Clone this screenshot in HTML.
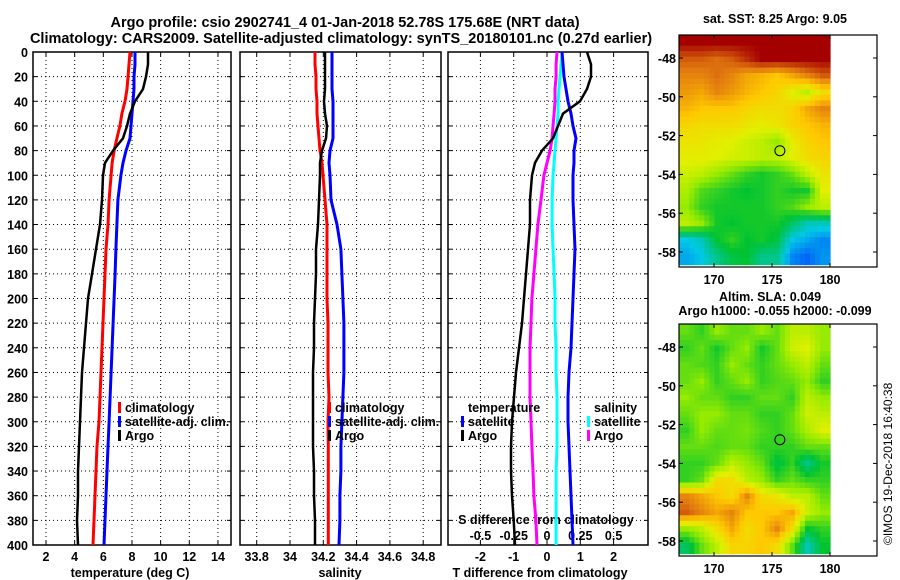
<!DOCTYPE html>
<html><head><meta charset="utf-8"><style>
html,body{margin:0;padding:0;background:#fff;}
svg{display:block;font-family:"Liberation Sans",Arial,sans-serif;font-weight:bold;}
</style></head><body>
<svg id="fig" width="900" height="580" viewBox="0 0 900 580" xmlns="http://www.w3.org/2000/svg">
<text x="345" y="27" text-anchor="middle" font-size="14.5">Argo profile: csio 2902741_4 01-Jan-2018 52.78S 175.68E (NRT data)</text>
<text x="341" y="43" text-anchor="middle" font-size="14.5">Climatology: CARS2009. Satellite-adjusted climatology: synTS_20180101.nc (0.27d earlier)</text>
<text x="775" y="23" text-anchor="middle" font-size="12.5">sat. SST: 8.25 Argo: 9.05</text>
<text x="770" y="301" text-anchor="middle" font-size="12.5">Altim. SLA: 0.049</text>
<text x="775" y="315" text-anchor="middle" font-size="12.5">Argo h1000: -0.055 h2000: -0.099</text>
<text transform="translate(892,545) rotate(-90)" font-size="12" font-weight="normal">©IMOS 19-Dec-2018 16:40:38</text>
<g id="plots"></g>
</svg>
<script>
const depths = [0,10,20,30,40,50,60,70,80,90,100,120,140,160,180,200,220,240,260,280,300,320,340,360,380,400];
const tempArgo = [9.12,9.12,8.98,8.77,8.21,7.86,7.65,7.37,6.68,6.12,5.98,5.91,5.77,5.49,5.21,4.93,4.79,4.65,4.51,4.44,4.37,4.30,4.23,4.23,4.16,4.23];
const tempClim = [7.86,7.79,7.72,7.65,7.51,7.30,7.16,6.95,6.75,6.61,6.54,6.40,6.33,6.19,6.12,6.05,5.98,5.91,5.84,5.77,5.70,5.56,5.49,5.42,5.35,5.28];
const tempSat = [8.21,8.21,8.14,8.14,8.07,8.00,7.93,7.86,7.58,7.37,7.23,7.02,6.95,6.88,6.82,6.75,6.68,6.61,6.54,6.47,6.40,6.33,6.26,6.19,6.12,6.05];
const salArgo = [34.21,34.21,34.21,34.21,34.204,34.21,34.222,34.216,34.192,34.18,34.18,34.174,34.168,34.156,34.156,34.15,34.144,34.144,34.138,34.138,34.138,34.138,34.144,34.144,34.15,34.15];
const salClim = [34.15,34.15,34.156,34.156,34.162,34.162,34.168,34.174,34.18,34.192,34.198,34.21,34.222,34.222,34.222,34.222,34.228,34.228,34.228,34.234,34.228,34.23,34.23,34.23,34.23,34.23];
const salSat = [34.252,34.252,34.252,34.252,34.258,34.258,34.258,34.258,34.24,34.234,34.24,34.246,34.282,34.306,34.312,34.318,34.324,34.324,34.324,34.318,34.312,34.306,34.306,34.300,34.300,34.294];
const dTArgo = [1.2,1.32,1.32,1.2,0.99,0.48,0.33,0.18,-0.15,-0.36,-0.45,-0.51,-0.51,-0.57,-0.63,-0.69,-0.75,-0.84,-0.93,-0.99,-1.05,-1.08,-1.08,-1.05,-1.0,-0.96];
const dTSat = [0.45,0.48,0.51,0.57,0.63,0.72,0.78,0.87,0.81,0.81,0.78,0.78,0.81,0.84,0.81,0.78,0.75,0.72,0.66,0.63,0.63,0.66,0.69,0.72,0.75,0.78];
const dSArgo = [0.075,0.068,0.068,0.060,0.060,0.053,0.045,0.038,0.023,0,-0.023,-0.045,-0.068,-0.083,-0.098,-0.113,-0.120,-0.128,-0.128,-0.128,-0.120,-0.113,-0.105,-0.098,-0.083,-0.075];
const dSSat = [0.113,0.105,0.098,0.090,0.083,0.083,0.075,0.068,0.060,0.053,0.045,0.038,0.038,0.045,0.053,0.060,0.060,0.068,0.068,0.075,0.075,0.075,0.068,0.068,0.068,0.068];
const depthTicks = [0,20,40,60,80,100,120,140,160,180,200,220,240,260,280,300,320,340,360,380,400];
const tempTicks = [2,4,6,8,10,12,14];
const salTicks = [33.8,34,34.2,34.4,34.6,34.8];
const salTickLabels = ["33.8","34","34.2","34.4","34.6","34.8"];
const dTTicks = [-2,-1,0,1,2];
const dSTicks = [-0.5,-0.25,0,0.25,0.5];
const lonTicks = [170,175,180];
const latTicks = [-48,-50,-52,-54,-56,-58];
const argoLon = 175.68;
const argoLat = -52.78;
const sstGrid = [
[1,1,1,1,1,1,1,1,1,1],
[.9,.9,.88,.9,.95,1,1,1,1,1],
[.85,.85,.88,.85,.8,.78,.75,.8,.85,.9],
[.82,.8,.85,.82,.78,.75,.72,.65,.6,.7],
[.78,.75,.75,.75,.72,.7,.7,.72,.8,.85],
[.72,.7,.7,.7,.68,.66,.68,.72,.75,.78],
[.68,.68,.66,.65,.62,.6,.55,.66,.72,.75],
[.66,.66,.65,.63,.62,.6,.6,.65,.7,.72],
[.62,.6,.55,.5,.45,.42,.45,.5,.6,.68],
[.58,.48,.45,.42,.4,.42,.45,.42,.42,.65],
[.55,.45,.42,.42,.42,.42,.45,.48,.55,.6],
[.6,.55,.42,.4,.42,.42,.42,.35,.25,.25],
[.2,.25,.4,.45,.4,.42,.38,.2,.15,.1],
[.15,.2,.3,.38,.4,.3,.3,.1,.05,.12]];
const slaGrid = [
[.5,.45,.55,.5,.5,.55,.5,.6,.6,.55],
[.45,.5,.42,.5,.55,.42,.5,.62,.65,.55],
[.5,.48,.45,.55,.5,.45,.5,.55,.6,.5],
[.5,.55,.45,.5,.55,.45,.48,.5,.55,.45],
[.55,.5,.5,.45,.45,.5,.5,.45,.6,.55],
[.5,.55,.55,.5,.5,.45,.45,.5,.62,.6],
[.45,.55,.5,.5,.52,.48,.45,.5,.58,.65],
[.5,.5,.48,.5,.5,.45,.45,.45,.5,.5],
[.45,.45,.5,.6,.55,.5,.38,.45,.3,.42],
[.45,.5,.7,.7,.6,.55,.45,.5,.45,.45],
[.85,.8,.75,.7,.85,.7,.68,.6,.6,.5],
[.9,.85,.8,.85,.75,.75,.75,.8,.62,.55],
[.55,.6,.7,.8,.7,.75,.85,.7,.4,.45],
[.35,.5,.6,.72,.72,.75,.7,.5,.25,.4]];

const NS = "http://www.w3.org/2000/svg";
const root = document.getElementById("plots");
function mk(tag, attrs, parent) {
  const e = document.createElementNS(NS, tag);
  for (const k in attrs) e.setAttribute(k, attrs[k]);
  (parent || root).appendChild(e);
  return e;
}
const Y0 = 52, Y1 = 545;
function yD(d) { return Y0 + (d / 400) * (Y1 - Y0); }
function xT(t) { return 46 + (t - 2) * 14.33; }
function xS(s) { return 290 + (s - 34) * 166.5; }
function xDT(v) { return 547 + v * 33.3; }
function xDS(v) { return 547 + v * 133.2; }

function panel(name, x0, x1, gridXs) {
  const g = mk("g", {});
  
  
  gridXs.forEach(function (gx) {
    const l = mk("line", {x1: gx, x2: gx, y1: Y0, y2: Y1, stroke: "#000", "stroke-width": 1, "stroke-dasharray": "1 3"}, g);
    
    
    mk("line", {x1: gx, x2: gx, y1: Y1, y2: Y1 - 4, stroke: "#000"}, g);
    mk("line", {x1: gx, x2: gx, y1: Y0, y2: Y0 + 4, stroke: "#000"}, g);
  });
  depthTicks.forEach(function (d) {
    const y = yD(d);
    const l = mk("line", {x1: x0, x2: x1, y1: y, y2: y, stroke: "#000", "stroke-width": 1, "stroke-dasharray": "1 3"}, g);
    
    
    mk("line", {x1: x0, x2: x0 + 4, y1: y, y2: y, stroke: "#000"}, g);
    mk("line", {x1: x1 - 4, x2: x1, y1: y, y2: y, stroke: "#000"}, g);
  });
  const r = mk("rect", {x: x0, y: Y0, width: x1 - x0, height: Y1 - Y0, fill: "none", stroke: "#000", "stroke-width": 1.5}, g);
  
  
  return g;
}
function series(name, vals, xf, color, w) {
  const pts = vals.map(function (v, i) { return xf(v).toFixed(1) + "," + yD(depths[i]).toFixed(1); }).join(" ");
  const p = mk("polyline", {points: pts, fill: "none", stroke: color, "stroke-width": w, "stroke-linejoin": "miter"});
  
  
}
function text(name, x, y, s, anchor, size) {
  const t = mk("text", {x: x, y: y, "text-anchor": anchor || "middle", "font-size": size || 12.5});
  t.textContent = s;
  
  
  return t;
}
function legend(name, x, y, color, label) {
  const m = mk("rect", {x: x, y: y - 10, width: 3, height: 11, fill: color});
  
  
  text(name, x + 7, y, label, "start");
}

// Panel 1: temperature
panel("temperature-panel", 33, 231, tempTicks.map(xT));
depthTicks.forEach(function (d) { text("depth-tick-label", 28, yD(d) + 5, String(d), "end"); });
tempTicks.forEach(function (t) { text("temp-tick-label", xT(t), 561, String(t)); });
text("temperature-axis-title", 130, 577, "temperature (deg C)");
series("temp-climatology-line", tempClim, xT, "#ff0000", 3);
series("temp-satellite-line", tempSat, xT, "#0000ff", 3);
series("temp-argo-line", tempArgo, xT, "#000000", 2.5);
legend("legend-climatology", 118, 412, "#ff0000", "climatology");
legend("legend-satellite-adj", 118, 426, "#0000ff", "satellite-adj. clim.");
legend("legend-argo", 118, 440, "#000000", "Argo");

// Panel 2: salinity
panel("salinity-panel", 240, 441, salTicks.map(xS));
salTicks.forEach(function (s, i) { text("sal-tick-label", xS(s), 561, salTickLabels[i]); });
text("salinity-axis-title", 340, 577, "salinity");
series("sal-climatology-line", salClim, xS, "#ff0000", 3);
series("sal-satellite-line", salSat, xS, "#0000ff", 3);
series("sal-argo-line", salArgo, xS, "#000000", 2.5);
legend("legend-sal-climatology", 328, 412, "#ff0000", "climatology");
legend("legend-sal-satellite-adj", 328, 426, "#0000ff", "satellite-adj. clim.");
legend("legend-sal-argo", 328, 440, "#000000", "Argo");

// Panel 3: differences
panel("difference-panel", 448, 648, dTTicks.map(xDT));
dTTicks.forEach(function (t) { text("dT-tick-label", xDT(t), 561, String(t)); });
text("dT-axis-title", 540, 577, "T difference from climatology");
dSTicks.forEach(function (s) { text("dS-tick-label", xDS(s), 540, String(s)); });
text("dS-axis-title", 546, 524, "S difference from climatology");
series("dS-satellite-line", dSSat, xDS, "#00ffff", 3);
series("dT-satellite-line", dTSat, xDT, "#0000ff", 3);
series("dS-argo-line", dSArgo, xDS, "#ff00ff", 3);
series("dT-argo-line", dTArgo, xDT, "#000000", 2.5);
text("legend-temperature-header", 468, 412, "temperature", "start");
legend("legend-dT-satellite", 461, 426, "#0000ff", "satellite");
legend("legend-dT-argo", 461, 440, "#000000", "Argo");
text("legend-salinity-header", 594, 412, "salinity", "start");
legend("legend-dS-satellite", 587, 426, "#00ffff", "satellite");
legend("legend-dS-argo", 587, 440, "#ff00ff", "Argo");

// Maps
function cmap(v) {
  const stops = [[0,[0,70,255]],[0.2,[0,200,230]],[0.4,[0,195,50]],[0.55,[150,235,0]],[0.65,[225,240,0]],[0.75,[255,200,0]],[0.87,[225,120,15]],[1,[165,0,0]]];
  for (let i = 1; i < stops.length; i++) {
    if (v <= stops[i][0]) {
      const a = stops[i-1], b = stops[i], f = (v - a[0]) / (b[0] - a[0]);
      return "rgb(" + a[1].map(function (c, j) { return Math.round(c + (b[1][j] - c) * f); }).join(",") + ")";
    }
  }
  return "rgb(165,0,0)";
}
function sample(grid, fr, fc) {
  const rows = grid.length, cols = grid[0].length;
  const r = Math.min(Math.max(fr, 0), rows - 1), c = Math.min(Math.max(fc, 0), cols - 1);
  const r0 = Math.floor(r), c0 = Math.floor(c);
  const r1 = Math.min(r0 + 1, rows - 1), c1 = Math.min(c0 + 1, cols - 1);
  const a = r - r0, b = c - c0;
  return grid[r0][c0] * (1 - a) * (1 - b) + grid[r0][c1] * (1 - a) * b + grid[r1][c0] * a * (1 - b) + grid[r1][c1] * a * b;
}
function drawMap(name, top, grid) {
  const g = mk("g", {});
  
  
  const lonMin = 167.0, lonMax = 180, latTop = -46.8, latBot = -58.65;
  const xL = function (lon) { return 830 - (180 - lon) * 11.6; };
  const yL = function (lat) { return top + 23 + (-48 - lat) * 19.4; };
  const rows = grid.length, cols = grid[0].length;
  const SUB = 3;
  const nr = rows * SUB, nc = cols * SUB;
  const cw = (xL(lonMax) - xL(lonMin)) / nc, ch = (yL(latBot) - yL(latTop)) / nr;
  for (let r = 0; r < nr; r++) {
    for (let c = 0; c < nc; c++) {
      const v = sample(grid, (r + 0.5) / SUB - 0.5, (c + 0.5) / SUB - 0.5);
      const cell = mk("rect", {x: (xL(lonMin) + c * cw).toFixed(1), y: (yL(latTop) + r * ch).toFixed(1), width: (cw + 0.6).toFixed(1), height: (ch + 0.6).toFixed(1), fill: cmap(v)}, g);
      
      
    }
  }
  const fr = mk("rect", {x: 679, y: top, width: 198, height: 232, fill: "none", stroke: "#000", "stroke-width": 1.2}, g);
  
  
  lonTicks.forEach(function (lon) {
    mk("line", {x1: xL(lon), x2: xL(lon), y1: top + 232, y2: top + 228, stroke: "#000"}, g);
    mk("line", {x1: xL(lon), x2: xL(lon), y1: top, y2: top + 4, stroke: "#000"}, g);
    const t = text("map-lon-tick-label", xL(lon), top + 249, String(lon));
    g.appendChild(t);
  });
  latTicks.forEach(function (lat) {
    mk("line", {x1: 679, x2: 683, y1: yL(lat), y2: yL(lat), stroke: "#000"}, g);
    mk("line", {x1: 873, x2: 877, y1: yL(lat), y2: yL(lat), stroke: "#000"}, g);
    const t = text("map-lat-tick-label", 676, yL(lat) + 5, String(lat), "end");
    g.appendChild(t);
  });
  const c = mk("circle", {cx: xL(argoLon), cy: yL(argoLat), r: 5, fill: "none", stroke: "#000", "stroke-width": 1}, g);
  
  
}
drawMap("sst-map", 35, sstGrid);
drawMap("sla-map", 324, slaGrid);
</script>
</body></html>
